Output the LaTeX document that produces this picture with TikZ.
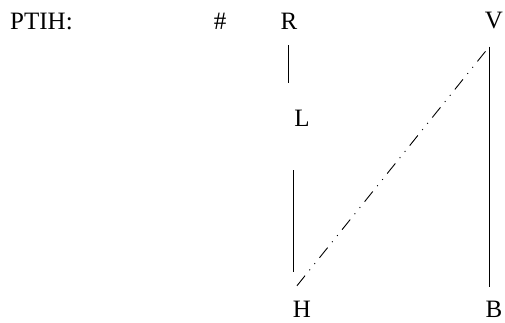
\documentclass[tikz,border=0pt]{standalone}
\usepackage{fontspec}
\setmainfont{Liberation Serif}
\usetikzlibrary{positioning,calc}

\begin{document}
\begin{tikzpicture}[
  x=1pt,y=-1pt,
  lbl/.style={inner sep=0pt,font=\fontsize{25pt}{30pt}\selectfont},
  link/.style={line width=0.9pt},
  dashdotdot/.style={line width=0.9pt,
    dash pattern=on 13pt off 7pt on 1pt off 7pt on 1pt off 7pt}
]
  \useasboundingbox (0,0) rectangle (505,322);
  \node[lbl,anchor=west] (title) at (10,21) {PTIH:};
  \node[lbl] (hash) at (220,21) {\#};
  \node[lbl] (R) at (289,21) {R};
  \node[lbl] (V) at (494,21) {V};
  \node[lbl] (L) at (302,118) {L};
  \node[lbl] (H) at (302,309) {H};
  \node[lbl] (B) at (494,309) {B};

  \draw[link,shorten <=16pt,shorten >=27pt]
    ([xshift=-1pt]R.south) -- ([xshift=-1pt]R.south |- L.north);
  \draw[link,shorten <=29pt,shorten >=44pt]
    ([xshift=-9pt]H.north) -- ([xshift=-9pt]H.north |- L.south);
  \draw[dashdotdot,shorten <=19pt,shorten >=28pt]
    ([xshift=-17pt]H.north) -- ([xshift=9pt]V.south);
  \draw[link,shorten <=17pt,shorten >=14pt]
    ([xshift=-5pt]V.south) -- ([xshift=-5pt]V.south |- B.north);
\end{tikzpicture}
\end{document}
